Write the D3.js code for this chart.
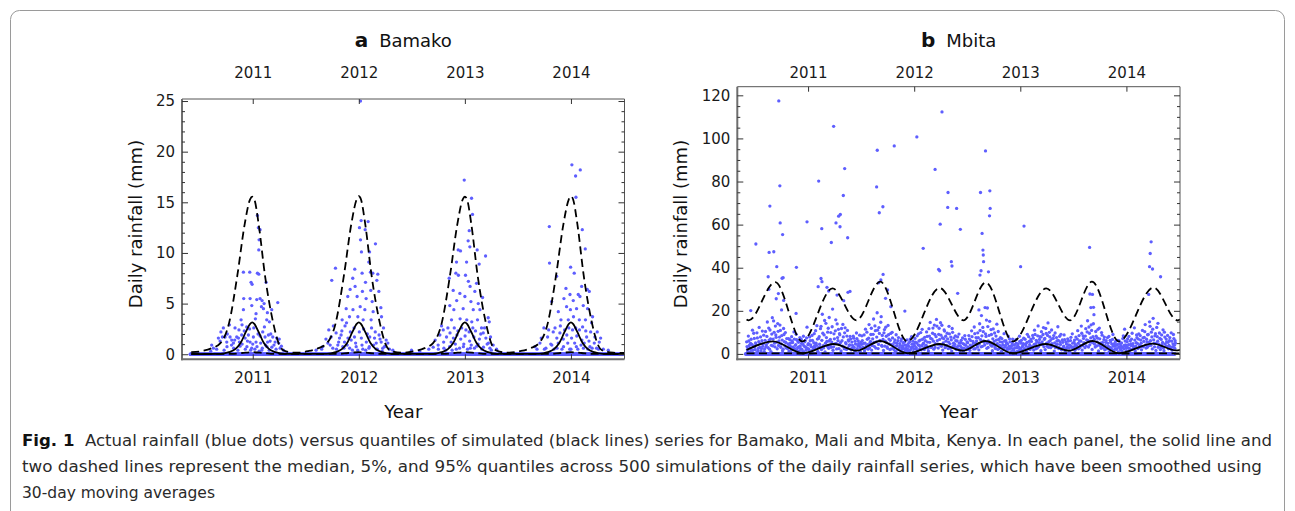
<!DOCTYPE html>
<html><head><meta charset="utf-8">
<script src="https://cdn.jsdelivr.net/npm/d3@7"></script>
<style>body{margin:0;background:#fff}svg{display:block}</style>
</head><body><svg id="c" width="1295" height="511"></svg>
<script>
// ---------- data ----------
const yearTicks = [2011, 2012, 2013, 2014];
const bamakoYTicks = [0, 5, 10, 15, 20, 25];
const mbitaYTicks = [0, 20, 40, 60, 80, 100, 120];
const panelTitles = [["a", "Bamako"], ["b", "Mbita"]];
const yLabel = "Daily rainfall (mm)";
const xLabel = "Year";
const captionLines = [
  ["Fig. 1", "  Actual rainfall (blue dots) versus quantiles of simulated (black lines) series for Bamako, Mali and Mbita, Kenya. In each panel, the solid line and"],
  ["", "two dashed lines represent the median, 5%, and 95% quantiles across 500 simulations of the daily rainfall series, which have been smoothed using"],
  ["", "30-day moving averages"]
];

// dry-day runs (rainfall = 0 every day inside each run)
const bamakoDryRuns = [[2010.41, 2010.62], [2010.63, 2011.3], [2011.31, 2011.75], [2011.76, 2012.3], [2012.31, 2012.8], [2012.81, 2013.3], [2013.31, 2013.74], [2013.75, 2014.49]];
const mbitaDryRuns = [[2010.41, 2010.9], [2010.91, 2011.6], [2011.61, 2012.2], [2012.21, 2012.95], [2012.96, 2013.7], [2013.71, 2014.46]];

// Bamako rainy days [decimal year, mm]
const bamakoDots = [
[2011.044,13.7],[2011.053,12.5],[2011.069,12.3],[2011.06,11.3],[2011.057,10.3],[2010.912,8.1],[2010.972,8.1],[2011.044,8.0],[2011.057,7.9],[2010.984,7.1],[2010.994,6.9],[2011.126,7.1],[2010.915,5.5],[2010.975,5.5],[2011.038,5.4],[2011.069,5.5],[2011.088,5.3],[2011.107,5.0],[2011.236,5.1],[2011.138,4.1],[2011.179,4.4],[2010.912,4.4],[2010.991,4.8],[2011.031,4.0],[2011.082,4.7],[2011.101,4.5],[2010.89,3.4],[2011.132,3.4],[2011.157,3.2],[2010.723,2.6],[2010.78,2.9],[2010.833,2.6],[2010.899,2.9],[2010.943,2.7],[2011.025,3.5],[2010.676,1.6],[2010.692,1.3],[2010.714,1.7],[2010.739,1.7],[2010.755,1.2],[2010.786,1.7],[2010.802,1.4],[2010.818,1.1],[2010.849,1.7],[2010.865,1.6],[2010.874,1.2],[2010.896,1.9],[2010.928,1.6],[2010.959,1.9],[2010.975,1.2],[2011.006,1.7],[2011.031,1.2],[2011.069,1.8],[2011.094,2.2],[2011.116,1.7],[2011.148,1.9],[2011.164,1.3],[2011.189,1.7],[2011.211,1.2],[2011.226,1.6],[2011.245,1.1],[2010.613,0.9],[2010.629,0.6],[2010.604,0.3],[2010.757,0.75],[2010.82,0.6],[2010.88,0.8],[2010.945,0.75],[2010.99,0.6],[2011.04,0.75],[2011.085,0.4],[2011.134,0.75],[2011.18,0.7],[2011.258,0.6],[2011.289,0.4],
[2010.66,0.5],[2010.7,2.2],[2010.73,0.4],[2010.76,2.0],[2010.8,0.9],[2010.83,1.4],[2010.86,0.4],[2010.87,2.4],[2010.9,1.0],[2010.92,2.3],[2010.93,0.5],[2010.95,1.3],[2010.97,2.5],[2010.98,0.4],[2011.0,1.0],[2011.01,2.6],[2011.02,0.5],[2011.05,2.0],[2011.06,0.3],[2011.075,1.1],[2011.09,0.6],[2011.11,2.7],[2011.12,0.9],[2011.14,1.2],[2011.155,0.4],[2011.17,2.0],[2011.2,0.9],[2011.22,0.5],[2011.25,1.5],[2011.27,0.8],
[2012.016,25.0],[2012.022,13.2],[2012.088,13.1],[2012.006,12.5],[2012.06,12.3],[2012.016,11.3],[2012.157,10.9],[2012.101,10.1],[2012.025,10.1],[2012.094,9.1],[2011.78,8.5],[2011.745,7.3],[2011.962,8.4],[2012.11,8.1],[2012.132,8.0],[2012.031,8.0],[2012.179,7.9],[2011.943,7.5],[2012.063,7.1],[2012.17,7.3],[2011.918,6.4],[2011.965,6.7],[2012.034,6.2],[2012.113,6.3],[2012.189,6.2],[2011.896,5.7],[2011.984,5.7],[2012.069,5.5],[2012.126,5.2],[2011.881,4.5],[2011.945,4.4],[2012.013,4.7],[2012.057,4.4],[2012.135,4.2],[2012.208,4.6],[2011.843,3.4],[2011.884,3.1],[2011.912,3.7],[2011.991,3.7],[2012.041,3.4],[2012.116,3.4],[2012.214,3.7],[2012.233,2.6],[2012.258,1.4],[2011.717,2.4],[2011.739,1.7],[2011.786,2.1],[2011.818,1.6],[2011.833,1.9],[2011.865,1.2],[2011.898,1.6],[2011.928,1.4],[2011.959,1.7],[2012.024,1.6],[2012.071,1.2],[2012.103,1.7],[2012.148,1.6],[2012.164,1.1],[2012.191,1.9],[2012.211,1.2],[2012.242,0.75],[2012.274,1.1],[2011.597,0.4],[2011.66,0.75],[2011.708,1.1],[2011.755,0.6],[2011.802,0.9],[2011.849,0.75],[2011.914,0.6],[2011.975,0.75],[2012.038,0.5],[2012.099,0.75],[2012.166,0.5],[2012.226,0.6],[2012.289,0.5],[2012.321,0.4],
[2011.65,0.5],[2011.69,1.5],[2011.73,0.9],[2011.76,2.8],[2011.79,0.5],[2011.81,1.2],[2011.84,2.3],[2011.86,0.6],[2011.87,2.8],[2011.89,0.9],[2011.92,2.2],[2011.94,0.4],[2011.955,2.6],[2011.97,1.1],[2011.99,0.4],[2012.005,2.2],[2012.03,0.9],[2012.045,2.5],[2012.065,0.4],[2012.08,2.0],[2012.095,0.6],[2012.12,2.6],[2012.14,0.9],[2012.155,2.2],[2012.175,0.5],[2012.2,1.5],[2012.22,0.3],[2012.25,0.8],
[2012.994,17.2],[2013.063,15.4],[2013.072,13.8],[2013.041,12.2],[2012.937,10.3],[2012.959,10.2],[2013.031,11.2],[2013.047,10.6],[2013.116,10.3],[2013.195,9.7],[2012.921,9.1],[2013.016,9.1],[2013.135,8.9],[2012.852,7.5],[2012.915,8.0],[2012.939,7.8],[2013.006,7.8],[2013.033,7.2],[2013.11,7.0],[2013.049,6.7],[2013.094,6.2],[2012.89,6.3],[2012.953,6.0],[2013.0,5.7],[2013.167,5.6],[2012.923,5.3],[2013.057,5.2],[2013.126,5.0],[2012.858,4.8],[2012.896,4.4],[2012.984,4.5],[2013.079,4.4],[2013.142,4.4],[2012.874,3.4],[2012.955,3.5],[2013.018,3.4],[2013.065,3.2],[2013.119,3.4],[2013.22,3.6],[2013.23,3.2],[2013.157,2.6],[2012.764,1.9],[2012.796,2.4],[2012.827,1.7],[2012.86,2.1],[2012.892,1.6],[2012.925,1.9],[2012.961,1.5],[2013.002,1.8],[2013.045,1.3],[2013.085,1.7],[2013.137,1.5],[2013.173,2.1],[2013.198,1.6],[2013.222,1.1],[2013.242,1.7],[2013.267,0.9],[2012.701,0.7],[2012.748,0.9],[2012.802,0.6],[2012.856,0.75],[2012.919,0.5],[2012.986,0.75],[2013.051,0.6],[2013.112,0.8],[2013.175,0.7],[2013.236,0.6],[2013.299,0.5],[2012.497,0.4],[2012.575,0.25],
[2012.66,0.5],[2012.72,1.4],[2012.75,0.5],[2012.78,2.8],[2012.8,1.2],[2012.82,0.4],[2012.84,2.6],[2012.87,1.2],[2012.88,0.4],[2012.9,2.6],[2012.91,1.0],[2012.935,2.3],[2012.95,0.6],[2012.97,2.6],[2012.99,1.0],[2013.01,2.4],[2013.025,0.5],[2013.04,2.2],[2013.06,0.9],[2013.075,2.6],[2013.09,0.6],[2013.1,2.3],[2013.125,1.0],[2013.15,2.0],[2013.16,0.5],[2013.185,2.6],[2013.21,1.0],[2013.25,0.4],
[2014.009,18.7],[2014.088,18.2],[2014.044,17.6],[2014.047,15.5],[2013.796,12.6],[2014.107,12.3],[2014.135,10.4],[2013.798,9.0],[2013.997,8.6],[2013.865,7.7],[2014.031,8.0],[2014.101,6.7],[2013.953,6.5],[2013.991,5.9],[2014.069,5.9],[2014.154,6.4],[2014.173,6.2],[2013.818,5.2],[2013.934,5.5],[2014.022,5.3],[2014.085,5.7],[2013.881,4.2],[2013.959,4.7],[2013.995,4.4],[2014.053,4.5],[2014.116,4.8],[2014.157,4.5],[2014.204,3.7],[2013.906,3.4],[2013.975,3.4],[2014.024,3.7],[2014.079,3.4],[2014.137,3.4],[2014.195,3.1],[2013.745,2.6],[2013.78,1.7],[2013.833,2.2],[2013.867,1.6],[2013.896,2.1],[2013.928,1.5],[2013.961,1.9],[2014.006,1.6],[2014.055,1.8],[2014.103,1.4],[2014.148,1.7],[2014.186,2.2],[2014.226,1.7],[2014.248,2.2],[2014.267,1.2],[2013.66,0.75],[2013.708,1.1],[2013.764,0.6],[2013.82,0.9],[2013.869,0.6],[2013.93,0.75],[2013.989,0.5],[2014.051,0.75],[2014.118,0.6],[2014.179,0.75],[2014.242,0.6],[2014.305,0.5],[2014.352,0.4],
[2013.68,0.5],[2013.72,1.6],[2013.75,0.5],[2013.79,2.4],[2013.81,1.0],[2013.84,0.5],[2013.85,2.6],[2013.88,1.1],[2013.9,2.8],[2013.915,0.5],[2013.94,2.4],[2013.97,1.1],[2013.98,2.6],[2014.0,0.5],[2014.015,2.4],[2014.035,1.1],[2014.045,2.6],[2014.065,0.5],[2014.08,2.4],[2014.095,0.9],[2014.11,2.7],[2014.125,1.1],[2014.14,2.3],[2014.16,0.5],[2014.17,1.3],[2014.2,0.6],[2014.22,1.1],[2014.26,0.5],[2014.28,1.6]
];

// Bamako simulated quantiles (30-day smoothed) [decimal year, mm]
const bamakoQ95 = [
[2010.42,0.2],[2010.515,0.3],[2010.615,0.6],[2010.695,1.1],[2010.775,3.0],[2010.855,7.8],[2010.925,12.9],[2010.975,15.3],[2010.995,15.55],[2011.015,15.3],[2011.055,12.9],[2011.115,7.8],[2011.195,3.0],[2011.245,1.05],[2011.295,0.35],[2011.395,0.15],
[2011.42,0.15],[2011.52,0.3],[2011.62,0.6],[2011.7,1.1],[2011.78,3.0],[2011.86,7.8],[2011.93,12.9],[2011.98,15.3],[2012.0,15.6],[2012.02,15.3],[2012.06,12.9],[2012.12,7.8],[2012.2,3.0],[2012.25,1.05],[2012.3,0.35],[2012.4,0.15],
[2012.42,0.15],[2012.52,0.3],[2012.62,0.6],[2012.7,1.1],[2012.78,3.0],[2012.86,7.8],[2012.93,12.9],[2012.98,15.3],[2013.0,15.55],[2013.02,15.3],[2013.06,12.9],[2013.12,7.8],[2013.2,3.0],[2013.25,1.05],[2013.3,0.35],[2013.4,0.15],
[2013.42,0.15],[2013.52,0.3],[2013.62,0.6],[2013.7,1.1],[2013.78,3.0],[2013.86,7.8],[2013.93,12.9],[2013.98,15.3],[2014.0,15.6],[2014.02,15.3],[2014.06,12.9],[2014.12,7.8],[2014.2,3.0],[2014.25,1.05],[2014.3,0.35],[2014.4,0.15],[2014.505,0.12]
];
const bamakoQ50 = [
[2010.42,0.02],[2010.695,0.03],[2010.775,0.2],[2010.835,0.5],[2010.885,1.1],[2010.935,2.2],[2010.975,3.0],[2010.995,3.15],[2011.015,3.0],[2011.055,2.2],[2011.105,1.1],[2011.155,0.5],[2011.215,0.2],[2011.295,0.03],
[2011.7,0.03],[2011.78,0.2],[2011.84,0.5],[2011.89,1.1],[2011.94,2.2],[2011.98,3.0],[2012.0,3.15],[2012.02,3.0],[2012.06,2.2],[2012.11,1.1],[2012.16,0.5],[2012.22,0.2],[2012.3,0.03],
[2012.7,0.03],[2012.78,0.2],[2012.84,0.5],[2012.89,1.1],[2012.94,2.2],[2012.98,3.0],[2013.0,3.15],[2013.02,3.0],[2013.06,2.2],[2013.11,1.1],[2013.16,0.5],[2013.22,0.2],[2013.3,0.03],
[2013.7,0.03],[2013.78,0.2],[2013.84,0.5],[2013.89,1.1],[2013.94,2.2],[2013.98,3.0],[2014.0,3.15],[2014.02,3.0],[2014.06,2.2],[2014.11,1.1],[2014.16,0.5],[2014.22,0.2],[2014.3,0.03],[2014.505,0.02]
];
const bamakoQ05 = [
[2010.42,0.03],[2010.8,0.03],[2010.9,0.12],[2011.0,0.2],[2011.1,0.12],[2011.2,0.03],[2011.8,0.03],[2011.9,0.12],[2012.0,0.2],[2012.1,0.12],[2012.2,0.03],
[2012.8,0.03],[2012.9,0.12],[2013.0,0.2],[2013.1,0.12],[2013.2,0.03],[2013.8,0.03],[2013.9,0.12],[2014.0,0.2],[2014.1,0.12],[2014.2,0.03],[2014.505,0.03]
];

// Mbita rainy days [decimal year, mm]
const mbitaDots = [
[2010.421,5.6],[2010.429,2.1],[2010.437,8.3],[2010.446,3.9],[2010.454,0.9],[2010.463,6.8],[2010.471,4.4],[2010.48,1.7],[2010.488,9.6],[2010.497,3.2],
[2010.505,5.1],[2010.514,0.6],[2010.522,7.4],[2010.531,2.6],[2010.539,12.3],[2010.548,4.8],[2010.556,1.4],[2010.565,6.1],[2010.573,3.5],[2010.582,8.7],[2010.59,2.3],[2010.599,10.4],
[2010.607,4.1],[2010.616,14.8],[2010.624,2.9],[2010.633,6.4],[2010.641,11.1],[2010.65,1.1],[2010.658,9.2],[2010.667,3.7],[2010.675,15.3],[2010.684,5.0],[2010.692,12.9],[2010.699,7.7],
[2010.709,2.4],[2010.718,10.5],[2010.726,6.0],[2010.735,13.4],[2010.743,3.1],[2010.752,8.5],[2010.76,1.5],[2010.769,11.8],[2010.777,5.7],[2010.786,9.9],[2010.794,2.8],[2010.799,7.1],
[2010.811,4.6],[2010.82,1.3],[2010.828,6.6],[2010.837,3.4],[2010.845,8.0],[2010.854,5.3],[2010.862,2.0],[2010.871,6.9],[2010.879,4.0],[2010.888,9.1],[2010.896,1.6],
[2010.905,5.9],[2010.913,3.3],[2010.922,7.5],[2010.93,2.5],[2010.939,4.9],[2010.947,0.7],[2010.956,8.2],[2010.964,3.6],[2010.973,6.2],[2010.981,1.8],[2010.99,12.4],[2010.998,4.2],
[2011.007,2.2],[2011.015,7.9],[2011.024,4.2],[2011.032,1.0],[2011.041,6.3],[2011.049,3.0],[2011.058,9.4],[2011.066,2.7],[2011.075,5.0],[2011.083,13.1],[2011.092,1.2],[2011.099,7.2],
[2011.109,4.5],[2011.117,11.7],[2011.126,2.0],[2011.134,18.4],[2011.143,3.8],[2011.151,8.8],[2011.16,0.9],[2011.168,14.2],[2011.177,5.8],[2011.185,10.1],[2011.194,2.6],[2011.199,16.9],
[2011.21,6.7],[2011.218,3.1],[2011.227,12.6],[2011.235,1.7],[2011.244,9.3],[2011.252,4.7],[2011.261,15.8],[2011.269,2.3],[2011.278,7.6],[2011.286,11.4],[2011.295,4.4],[2011.299,8.9],
[2011.311,1.4],[2011.32,6.1],[2011.328,13.7],[2011.337,3.3],[2011.345,9.8],[2011.354,5.2],[2011.362,2.1],[2011.371,10.9],[2011.379,6.5],[2011.388,3.9],[2011.396,8.1],
[2011.405,1.9],[2011.413,5.5],[2011.422,3.0],[2011.43,7.3],[2011.439,0.8],[2011.447,4.6],[2011.456,9.7],[2011.464,2.4],[2011.473,6.0],[2011.481,3.6],[2011.49,1.2],[2011.498,5.3],
[2011.507,8.4],[2011.515,2.8],[2011.524,4.9],[2011.532,1.5],[2011.541,11.5],[2011.549,3.7],[2011.558,6.8],[2011.566,2.2],[2011.575,13.6],[2011.583,5.1],[2011.592,9.0],[2011.599,1.8],
[2011.609,7.0],[2011.617,16.2],[2011.626,3.4],[2011.634,10.8],[2011.643,5.6],[2011.651,19.1],[2011.66,2.5],[2011.668,12.2],[2011.677,6.3],[2011.685,14.7],[2011.694,4.0],[2011.699,8.6],
[2011.711,1.6],[2011.72,11.3],[2011.728,5.9],[2011.737,8.2],[2011.745,3.2],[2011.754,13.2],[2011.762,6.9],[2011.771,2.0],[2011.779,9.5],[2011.788,4.3],[2011.796,7.4],
[2011.805,2.7],[2011.813,5.4],[2011.822,1.1],[2011.83,8.9],[2011.839,3.8],[2011.847,6.1],[2011.856,2.3],[2011.864,4.8],[2011.873,1.4],[2011.881,7.0],[2011.89,3.1],[2011.898,5.2],
[2011.907,0.8],[2011.915,4.1],[2011.924,2.6],[2011.932,6.5],[2011.941,1.3],[2011.949,3.5],[2011.958,5.7],[2011.966,2.0],[2011.975,8.0],[2011.983,3.3],[2011.992,1.0],[2011.998,4.6],
[2012.007,7.2],[2012.015,2.4],[2012.024,5.1],[2012.032,1.6],[2012.041,9.3],[2012.049,3.9],[2012.058,6.4],[2012.066,1.9],[2012.075,11.4],[2012.083,4.5],[2012.092,2.8],[2012.099,7.7],
[2012.109,3.6],[2012.117,10.2],[2012.126,5.5],[2012.134,1.4],[2012.143,8.3],[2012.151,14.6],[2012.16,3.0],[2012.168,6.9],[2012.177,12.0],[2012.185,2.2],[2012.194,9.0],[2012.199,4.8],
[2012.21,16.0],[2012.218,6.2],[2012.227,2.7],[2012.235,11.9],[2012.244,4.1],[2012.252,8.7],[2012.261,13.3],[2012.269,1.8],[2012.278,7.1],[2012.286,10.6],[2012.295,3.4],[2012.299,5.9],
[2012.311,9.6],[2012.32,2.5],[2012.328,12.8],[2012.337,4.7],[2012.345,7.8],[2012.354,1.3],[2012.362,10.0],[2012.371,5.0],[2012.379,3.2],[2012.388,8.4],[2012.396,2.0],
[2012.405,6.0],[2012.413,3.7],[2012.422,9.2],[2012.43,1.6],[2012.439,5.3],[2012.447,2.9],[2012.456,7.4],[2012.464,1.0],[2012.473,4.4],[2012.481,6.8],[2012.49,2.3],[2012.498,5.6],
[2012.507,3.1],[2012.515,8.5],[2012.524,1.7],[2012.532,6.2],[2012.541,10.7],[2012.549,3.8],[2012.558,5.0],[2012.566,12.5],[2012.575,2.4],[2012.583,7.6],[2012.592,4.3],[2012.599,9.8],
[2012.609,1.9],[2012.617,14.0],[2012.626,6.6],[2012.634,17.8],[2012.643,3.5],[2012.651,10.3],[2012.66,5.4],[2012.668,21.5],[2012.677,8.1],[2012.685,2.6],[2012.694,12.7],[2012.699,6.0],
[2012.711,15.1],[2012.72,4.2],[2012.728,9.0],[2012.737,1.5],[2012.745,11.6],[2012.754,5.8],[2012.762,3.0],[2012.771,8.3],[2012.779,13.8],[2012.788,2.1],[2012.796,6.7],
[2012.805,4.0],[2012.813,7.5],[2012.822,1.2],[2012.83,5.5],[2012.839,2.8],[2012.847,9.4],[2012.856,3.3],[2012.864,6.1],[2012.873,1.8],[2012.881,4.7],[2012.89,2.2],[2012.898,7.0],
[2012.907,3.5],[2012.915,1.0],[2012.924,5.2],[2012.932,2.5],[2012.941,4.1],[2012.949,0.7],[2012.958,6.6],[2012.966,2.9],[2012.975,3.8],[2012.983,1.4],[2012.992,8.2],[2012.998,2.0],
[2013.007,5.0],[2013.015,1.6],[2013.024,3.9],[2013.032,7.3],[2013.041,2.4],[2013.049,4.5],[2013.058,1.1],[2013.066,9.1],[2013.075,3.0],[2013.083,5.8],[2013.092,2.1],[2013.099,6.9],
[2013.109,3.4],[2013.117,8.6],[2013.126,1.8],[2013.134,11.0],[2013.143,4.6],[2013.151,6.3],[2013.16,2.7],[2013.168,13.0],[2013.177,5.2],[2013.185,8.0],[2013.194,1.5],[2013.199,10.3],
[2013.21,4.3],[2013.218,12.2],[2013.227,6.8],[2013.235,2.0],[2013.244,9.5],[2013.252,3.6],[2013.261,14.4],[2013.269,5.7],[2013.278,7.9],[2013.286,2.9],[2013.295,11.1],[2013.299,4.8],
[2013.311,7.2],[2013.32,1.3],[2013.328,9.7],[2013.337,3.8],[2013.345,6.0],[2013.354,12.6],[2013.362,2.5],[2013.371,8.2],[2013.379,4.4],[2013.388,1.9],[2013.396,6.5],
[2013.405,3.0],[2013.413,8.8],[2013.422,1.5],[2013.43,5.6],[2013.439,2.7],[2013.447,7.0],[2013.456,4.2],[2013.464,1.0],[2013.473,6.2],[2013.481,3.4],[2013.49,9.3],[2013.498,2.3],
[2013.507,5.3],[2013.515,1.7],[2013.524,7.8],[2013.532,3.6],[2013.541,10.8],[2013.549,2.4],[2013.558,6.0],[2013.566,4.0],[2013.575,12.9],[2013.583,1.8],[2013.592,8.4],[2013.599,5.1],
[2013.609,2.9],[2013.617,11.7],[2013.626,6.5],[2013.634,15.4],[2013.643,3.2],[2013.651,9.6],[2013.66,5.6],[2013.668,13.5],[2013.677,2.1],[2013.685,8.0],[2013.694,18.2],[2013.699,4.6],
[2013.711,10.4],[2013.72,3.7],[2013.728,7.3],[2013.737,1.4],[2013.745,12.0],[2013.754,5.0],[2013.762,2.6],[2013.771,8.7],[2013.779,4.1],[2013.788,6.6],[2013.796,1.9],
[2013.805,5.4],[2013.813,2.3],[2013.822,7.6],[2013.83,3.5],[2013.839,1.1],[2013.847,6.3],[2013.856,2.8],[2013.864,4.5],[2013.873,9.0],[2013.881,1.6],[2013.89,3.9],[2013.898,5.8],
[2013.907,2.1],[2013.915,4.4],[2013.924,0.9],[2013.932,6.0],[2013.941,2.6],[2013.949,3.8],[2013.958,1.3],[2013.966,7.1],[2013.975,2.4],[2013.983,11.5],[2013.992,4.2],[2013.998,1.5],
[2014.007,5.7],[2014.015,2.8],[2014.024,8.1],[2014.032,1.7],[2014.041,4.6],[2014.049,6.9],[2014.058,2.2],[2014.066,3.5],[2014.075,12.1],[2014.083,1.4],[2014.092,5.2],[2014.099,7.5],
[2014.109,2.5],[2014.117,9.3],[2014.126,4.0],[2014.134,6.4],[2014.143,1.9],[2014.151,10.9],[2014.16,3.3],[2014.168,7.7],[2014.177,13.6],[2014.185,2.7],[2014.194,5.5],[2014.199,8.9],
[2014.21,3.8],[2014.218,14.9],[2014.227,6.1],[2014.235,10.1],[2014.244,2.3],[2014.252,16.5],[2014.261,4.9],[2014.269,8.4],[2014.278,1.6],[2014.286,12.3],[2014.295,5.9],[2014.299,3.1],
[2014.311,9.7],[2014.32,2.0],[2014.328,6.7],[2014.337,4.3],[2014.345,11.2],[2014.354,1.5],[2014.362,7.8],[2014.371,3.6],[2014.379,5.6],[2014.388,8.6],[2014.396,2.4],
[2014.405,6.2],[2014.413,3.3],[2014.422,9.8],[2014.43,1.8],[2014.439,4.7],[2014.447,7.1],[2014.456,2.6],[2014.462,5.0],
// heavier days
[2010.46,20.1],[2010.508,51.0],[2010.624,35.8],[2010.633,47.1],[2010.64,68.6],[2010.677,47.4],[2010.705,40.5],[2010.724,117.4],[2010.734,78.0],[2010.737,60.8],[2010.755,35.1],[2010.765,35.4],[2010.76,55.4],[2010.887,18.8],[2010.89,40.2],[2010.63,30.0],[2010.7,25.6],[2010.72,28.0],[2010.75,20.4],[2010.77,24.8],
[2010.99,61.3],[2011.1,80.2],[2011.095,31.2],[2011.122,35.0],[2011.131,33.5],[2011.129,58.1],[2011.178,30.9],[2011.194,29.2],[2011.219,51.7],[2011.241,105.6],[2011.263,60.8],[2011.288,63.9],[2011.304,64.7],[2011.301,59.0],[2011.332,73.5],[2011.345,86.0],[2011.373,53.9],[2011.376,28.6],[2011.395,29.0],[2011.336,24.7],[2011.273,27.3],
[2011.646,77.5],[2011.652,94.5],[2011.671,65.5],[2011.705,68.3],[2011.707,36.9],[2011.686,34.3],[2011.665,33.0],[2011.749,29.7],[2011.73,25.8],[2011.78,21.9],[2011.812,96.5],[2011.912,19.9],
[2012.025,100.7],[2012.085,49.0],[2012.197,85.6],[2012.23,39.2],[2012.245,60.2],[2012.262,112.3],[2012.316,68.0],[2012.319,74.9],[2012.35,42.8],[2012.356,40.8],[2012.4,67.5],[2012.41,28.1],[2012.435,57.8],[2012.24,38.6],
[2012.625,74.9],[2012.62,36.6],[2012.63,38.6],[2012.64,55.9],[2012.648,48.2],[2012.651,45.9],[2012.654,42.8],[2012.672,94.2],[2012.7,38.1],[2012.71,64.1],[2012.713,75.7],[2012.716,67.5],[2012.69,21.3],[2012.61,20.4],
[2013.003,40.5],[2013.035,59.3],[2013.653,49.4],[2013.656,27.8],[2013.68,27.6],[2013.665,21.5],[2013.69,21.6],
[2014.224,46.6],[2014.233,52.0],[2014.218,40.5],[2014.246,39.4],[2014.21,27.6],[2014.322,35.8]
];
const mbitaDotsMore = [
[2010.425,3.4],[2010.433,1.2],[2010.441,6.0],[2010.45,2.7],[2010.458,4.9],[2010.467,1.8],[2010.476,11.0],[2010.484,3.6],[2010.493,7.2],
[2010.501,2.0],[2010.51,4.3],[2010.518,9.8],[2010.527,1.5],[2010.535,5.7],[2010.544,3.0],[2010.552,7.9],[2010.561,2.5],[2010.569,10.6],[2010.578,4.7],[2010.586,1.1],[2010.595,6.3],
[2010.603,3.2],[2010.612,8.1],[2010.62,5.2],[2010.629,12.0],[2010.637,2.2],[2010.646,7.0],[2010.654,4.0],[2010.663,16.8],[2010.671,6.9],[2010.68,10.0],[2010.688,3.3],[2010.696,8.8],
[2010.705,5.5],[2010.714,14.1],[2010.722,3.9],[2010.731,7.8],[2010.739,10.9],[2010.748,4.6],[2010.756,6.4],[2010.765,2.2],[2010.773,9.0],[2010.782,3.7],[2010.79,5.3],
[2010.807,2.5],[2010.816,7.1],[2010.824,3.9],[2010.833,5.0],[2010.841,1.7],[2010.85,6.0],[2010.858,3.1],[2010.867,10.2],[2010.875,2.4],[2010.884,4.3],[2010.892,6.6],
[2010.901,2.9],[2010.909,5.4],[2010.918,1.4],[2010.926,3.7],[2010.935,6.8],[2010.943,2.1],[2010.952,4.4],[2010.96,1.0],[2010.969,5.6],[2010.977,3.1],[2010.986,7.4],[2010.994,2.6],
[2011.003,4.8],[2011.011,1.5],[2011.02,6.1],[2011.028,3.4],[2011.037,8.6],[2011.045,2.0],[2011.054,5.2],[2011.062,3.8],[2011.071,10.8],[2011.079,4.0],[2011.088,6.9],[2011.096,2.9],
[2011.105,8.0],[2011.113,3.2],[2011.122,12.8],[2011.13,6.3],[2011.139,9.6],[2011.147,2.8],[2011.156,15.5],[2011.164,5.0],[2011.173,7.6],[2011.181,3.5],[2011.19,11.9],[2011.198,6.0],
[2011.206,4.0],[2011.214,9.9],[2011.223,5.5],[2011.231,20.8],[2011.24,3.3],[2011.248,7.0],[2011.257,10.7],[2011.265,4.9],[2011.274,13.9],[2011.282,6.2],[2011.291,2.5],[2011.296,9.4],
[2011.306,5.3],[2011.315,11.8],[2011.324,3.6],[2011.332,7.9],[2011.341,2.4],[2011.349,12.1],[2011.358,4.7],[2011.366,8.3],[2011.375,2.8],[2011.383,6.0],[2011.392,4.2],
[2011.401,6.9],[2011.409,2.4],[2011.418,4.0],[2011.426,8.2],[2011.435,3.0],[2011.443,5.9],[2011.452,1.8],[2011.46,7.1],[2011.469,3.8],[2011.477,4.8],[2011.486,8.7],[2011.494,2.9],
[2011.503,4.4],[2011.511,6.2],[2011.52,3.1],[2011.528,8.8],[2011.537,5.0],[2011.545,2.6],[2011.554,10.1],[2011.562,4.3],[2011.571,7.3],[2011.579,2.9],[2011.588,5.8],[2011.596,11.9],
[2011.604,3.9],[2011.613,9.1],[2011.621,5.3],[2011.63,13.0],[2011.638,2.7],[2011.647,7.8],[2011.655,11.0],[2011.664,4.4],[2011.672,9.5],[2011.681,6.0],[2011.689,17.3],[2011.697,3.5],
[2011.706,6.7],[2011.715,9.8],[2011.724,3.6],[2011.732,12.4],[2011.741,5.2],[2011.749,2.6],[2011.758,8.9],[2011.766,4.6],[2011.775,6.3],[2011.783,2.3],[2011.792,10.0],
[2011.801,4.2],[2011.809,2.0],[2011.818,6.5],[2011.826,3.5],[2011.835,5.0],[2011.843,1.9],[2011.852,7.6],[2011.86,2.9],[2011.869,4.0],[2011.877,6.0],[2011.886,2.1],[2011.894,3.8],
[2011.903,2.5],[2011.911,5.6],[2011.92,1.6],[2011.928,3.9],[2011.937,2.3],[2011.945,4.8],[2011.954,1.1],[2011.962,6.9],[2011.971,2.9],[2011.979,4.5],[2011.988,5.9],[2011.995,2.4],
[2012.003,3.8],[2012.011,5.5],[2012.02,2.9],[2012.028,8.4],[2012.037,4.2],[2012.045,6.0],[2012.054,2.5],[2012.062,9.9],[2012.071,3.7],[2012.079,6.8],[2012.088,5.0],[2012.096,2.0],
[2012.105,6.1],[2012.113,4.0],[2012.122,8.1],[2012.13,2.6],[2012.139,11.7],[2012.147,5.4],[2012.156,7.2],[2012.164,3.3],[2012.173,9.6],[2012.181,5.9],[2012.19,13.4],[2012.197,3.0],
[2012.206,8.0],[2012.214,12.9],[2012.223,4.5],[2012.231,9.1],[2012.24,6.7],[2012.248,14.5],[2012.257,3.5],[2012.265,7.5],[2012.274,5.1],[2012.282,11.1],[2012.291,2.9],[2012.297,8.2],
[2012.306,3.9],[2012.315,7.0],[2012.324,5.5],[2012.332,9.3],[2012.341,2.6],[2012.349,6.5],[2012.358,11.8],[2012.366,3.6],[2012.375,7.4],[2012.383,4.4],[2012.392,6.1],
[2012.401,3.0],[2012.409,7.9],[2012.418,2.2],[2012.426,5.0],[2012.435,3.7],[2012.443,6.3],[2012.452,1.9],[2012.46,4.8],[2012.469,2.7],[2012.477,8.5],[2012.486,4.0],[2012.494,2.0],
[2012.503,5.2],[2012.511,2.6],[2012.52,6.9],[2012.528,4.1],[2012.537,3.1],[2012.545,8.0],[2012.554,5.8],[2012.562,2.3],[2012.571,9.4],[2012.579,4.9],[2012.588,6.0],[2012.596,3.2],
[2012.604,7.5],[2012.613,4.6],[2012.621,10.9],[2012.63,3.3],[2012.638,8.4],[2012.647,12.3],[2012.655,6.0],[2012.664,4.1],[2012.672,9.3],[2012.681,15.7],[2012.689,5.0],[2012.697,3.0],
[2012.706,8.6],[2012.715,5.3],[2012.724,11.3],[2012.732,3.6],[2012.741,7.0],[2012.749,4.3],[2012.758,9.7],[2012.766,2.5],[2012.775,6.4],[2012.783,4.8],[2012.792,10.4],
[2012.801,2.5],[2012.809,5.6],[2012.818,3.4],[2012.826,7.1],[2012.835,4.3],[2012.843,2.0],[2012.852,6.0],[2012.86,3.9],[2012.869,5.2],[2012.877,2.6],[2012.886,8.3],[2012.894,3.5],
[2012.903,5.6],[2012.911,2.6],[2012.92,3.9],[2012.928,6.9],[2012.937,1.7],[2012.945,4.2],[2012.954,2.8],[2012.962,5.0],[2012.971,1.2],[2012.979,4.6],[2012.988,3.0],[2012.995,5.8],
[2013.003,2.6],[2013.011,6.3],[2013.02,3.3],[2013.028,4.8],[2013.037,2.0],[2013.045,6.8],[2013.054,3.7],[2013.062,5.3],[2013.071,2.4],[2013.079,8.0],[2013.088,4.3],[2013.096,3.1],
[2013.105,5.8],[2013.113,2.9],[2013.122,7.3],[2013.13,4.4],[2013.139,9.0],[2013.147,2.4],[2013.156,5.5],[2013.164,8.4],[2013.173,3.4],[2013.181,6.7],[2013.19,4.6],[2013.197,7.9],
[2013.206,5.6],[2013.214,9.0],[2013.223,3.3],[2013.231,7.2],[2013.24,11.8],[2013.248,5.0],[2013.257,8.6],[2013.265,3.1],[2013.274,10.0],[2013.282,6.2],[2013.291,4.0],[2013.297,7.0],
[2013.306,3.6],[2013.315,8.5],[2013.324,5.1],[2013.332,2.9],[2013.341,7.6],[2013.349,4.5],[2013.358,6.3],[2013.366,3.0],[2013.375,5.6],[2013.383,9.1],[2013.392,2.5],
[2013.401,5.4],[2013.409,3.6],[2013.418,6.6],[2013.426,2.3],[2013.435,4.6],[2013.443,3.2],[2013.452,5.9],[2013.46,2.7],[2013.469,4.0],[2013.477,7.7],[2013.486,3.0],[2013.494,5.0],
[2013.503,3.2],[2013.511,6.4],[2013.52,4.3],[2013.528,2.5],[2013.537,6.9],[2013.545,4.9],[2013.554,8.5],[2013.562,3.0],[2013.571,5.9],[2013.579,9.6],[2013.588,3.8],[2013.596,7.2],
[2013.604,5.0],[2013.613,8.3],[2013.621,3.7],[2013.63,10.2],[2013.638,6.2],[2013.647,12.5],[2013.655,4.2],[2013.664,7.4],[2013.672,10.9],[2013.681,5.2],[2013.689,14.0],[2013.697,6.8],
[2013.706,3.2],[2013.715,8.2],[2013.724,5.6],[2013.732,11.4],[2013.741,4.1],[2013.749,7.0],[2013.758,3.4],[2013.766,9.9],[2013.775,5.3],[2013.783,2.8],[2013.792,7.8],
[2013.801,3.8],[2013.809,6.1],[2013.818,2.6],[2013.826,4.9],[2013.835,8.1],[2013.843,3.0],[2013.852,5.5],[2013.86,2.1],[2013.869,6.7],[2013.877,3.6],[2013.886,4.8],[2013.894,2.4],
[2013.903,4.0],[2013.911,2.5],[2013.92,6.3],[2013.928,3.3],[2013.937,4.6],[2013.945,1.9],[2013.954,5.1],[2013.962,3.0],[2013.971,8.4],[2013.979,3.9],[2013.988,6.0],[2013.995,2.9],
[2014.003,3.4],[2014.011,7.0],[2014.02,4.3],[2014.028,2.6],[2014.037,6.1],[2014.045,3.9],[2014.054,9.6],[2014.062,4.8],[2014.071,2.9],[2014.079,6.4],[2014.088,3.6],[2014.096,8.8],
[2014.105,4.8],[2014.113,6.9],[2014.122,3.0],[2014.13,8.5],[2014.139,5.0],[2014.147,3.4],[2014.156,7.4],[2014.164,5.8],[2014.173,10.3],[2014.181,4.2],[2014.19,6.8],[2014.197,3.1],
[2014.206,9.0],[2014.214,5.5],[2014.223,12.8],[2014.231,4.0],[2014.24,7.9],[2014.248,11.5],[2014.257,6.5],[2014.265,3.3],[2014.274,9.4],[2014.282,5.0],[2014.291,8.0],[2014.297,14.2],
[2014.306,4.5],[2014.315,7.2],[2014.324,3.1],[2014.332,8.8],[2014.341,5.3],[2014.349,2.7],[2014.358,10.1],[2014.366,4.7],[2014.375,6.9],[2014.383,3.4],[2014.392,5.4],
[2014.401,3.9],[2014.409,7.6],[2014.418,2.5],[2014.426,5.9],[2014.435,3.3],[2014.443,9.0],[2014.452,4.0],[2014.459,6.1]
];

// Mbita simulated quantiles (30-day smoothed) [decimal year, mm]
const mbitaQ95 = [
[2010.42,16.0],[2010.44,15.6],[2010.69,33.3],[2010.945,5.8],[2011.23,30.4],[2011.455,15.6],[2011.68,33.5],[2011.935,5.8],[2012.24,30.6],[2012.465,15.6],[2012.675,33.2],[2012.93,5.8],[2013.245,30.4],[2013.47,15.6],[2013.675,33.5],[2013.93,5.8],[2014.255,30.8],[2014.48,15.6],[2014.51,16.0]
];
const mbitaQ50 = [
[2010.42,1.8],[2010.67,5.8],[2010.95,0.3],[2011.24,4.6],[2011.46,1.5],[2011.68,6.0],[2011.94,0.3],[2012.24,4.6],[2012.46,1.5],[2012.67,6.0],[2012.93,0.3],[2013.24,4.6],[2013.46,1.5],[2013.68,6.0],[2013.93,0.3],[2014.25,4.8],[2014.47,1.6],[2014.51,1.9]
];
const mbitaQ05 = [
[2010.42,0.25],[2011.0,0.2],[2011.5,0.25],[2012.0,0.2],[2012.5,0.25],[2013.0,0.2],[2013.5,0.25],[2014.0,0.2],[2014.51,0.25]
];

// ---------- drawing ----------
const svg = d3.select("#c");
const FONT = "'DejaVu Sans', Verdana, sans-serif";
const DOT = "#5e5eff";
const DOT_R = 1.65;

// outer rounded frame
svg.append("rect").attr("x", 10.5).attr("y", 10.5).attr("width", 1274).attr("height", 540)
  .attr("rx", 9).attr("fill", "none").attr("stroke", "#9a9a9a").attr("stroke-width", 1);

function expandRuns(runs) {
  const out = [];
  runs.forEach(([a, b]) => { for (let t = a; t <= b + 1e-9; t += 1 / 365) out.push([t, 0]); });
  return out;
}

function panel(cfg) {
  const x = d3.scaleLinear().domain([2010.333, 2014.505]).range([cfg.left, cfg.right]);
  const y = d3.scaleLinear().domain(cfg.yDomain).range([cfg.bottom, cfg.top]);
  const g = svg.append("g");
  const clipId = "clip" + cfg.id;
  svg.append("clipPath").attr("id", clipId).append("rect")
    .attr("x", cfg.left).attr("y", cfg.top).attr("width", cfg.right - cfg.left).attr("height", cfg.bottom - cfg.top);

  // dots
  const dg = g.append("g").attr("clip-path", `url(#${clipId})`);
  dg.selectAll("circle.z").data(expandRuns(cfg.dry)).join("circle").attr("class", "z")
    .attr("cx", d => x(d[0])).attr("cy", d => y(d[1])).attr("r", DOT_R).attr("fill", DOT);
  dg.selectAll("circle.r").data(cfg.dots).join("circle").attr("class", "r")
    .attr("cx", d => x(d[0])).attr("cy", d => y(d[1])).attr("r", DOT_R).attr("fill", DOT);

  // lines
  const line = d3.line().x(d => x(d[0])).y(d => y(d[1])).curve(d3.curveMonotoneX);
  const lg = g.append("g").attr("clip-path", `url(#${clipId})`);
  [[cfg.q05, "8,4.5"], [cfg.q95, "8,4.5"], [cfg.q50, null]].forEach(([data, dash]) => {
    lg.append("path").datum(data).attr("d", line).attr("fill", "none").attr("stroke", "#000")
      .attr("stroke-width", 1.8).attr("stroke-dasharray", dash);
  });

  // frame
  g.append("line").attr("x1", cfg.left).attr("x2", cfg.right).attr("y1", cfg.top).attr("y2", cfg.top).attr("stroke", "#555").attr("stroke-width", 1);
  g.append("line").attr("x1", cfg.right).attr("x2", cfg.right).attr("y1", cfg.top).attr("y2", cfg.bottom).attr("stroke", "#555").attr("stroke-width", 1);
  g.append("line").attr("x1", cfg.left).attr("x2", cfg.left).attr("y1", cfg.top).attr("y2", cfg.bottom + 1).attr("stroke", "#6e6e6e").attr("stroke-width", 2);
  g.append("line").attr("x1", cfg.left - 1).attr("x2", cfg.right).attr("y1", cfg.bottom).attr("y2", cfg.bottom).attr("stroke", "#6e6e6e").attr("stroke-width", 2);

  const styleAxis = (sel) => {
    sel.select(".domain").remove();
    sel.selectAll(".tick line").attr("stroke", "#333").attr("stroke-width", 1);
    sel.selectAll("text").attr("font-family", FONT).attr("font-size", 15).attr("fill", "#1a1a1a");
  };
  const minor = d3.range(0, cfg.yDomain[1], cfg.minorStep).filter(v => !cfg.yTicks.includes(v));

  g.append("g").attr("transform", `translate(${cfg.left},0)`)
    .call(d3.axisLeft(y).tickValues(cfg.yTicks).tickSize(-6).tickPadding(7)).call(styleAxis);
  g.append("g").attr("transform", `translate(${cfg.left},0)`)
    .call(d3.axisLeft(y).tickValues(minor).tickSize(-3).tickFormat("")).call(styleAxis);
  g.append("g").attr("transform", `translate(${cfg.right},0)`)
    .call(d3.axisRight(y).tickValues(cfg.yTicks).tickSize(-6).tickFormat("")).call(styleAxis);
  g.append("g").attr("transform", `translate(${cfg.right},0)`)
    .call(d3.axisRight(y).tickValues(minor).tickSize(-3).tickFormat("")).call(styleAxis);
  g.append("g").attr("transform", `translate(0,${cfg.bottom})`)
    .call(d3.axisBottom(x).tickValues(yearTicks).tickSize(-5).tickPadding(13).tickFormat(d3.format("d"))).call(styleAxis);
  g.append("g").attr("transform", `translate(0,${cfg.top})`)
    .call(d3.axisTop(x).tickValues(yearTicks).tickSize(-5).tickPadding(cfg.top - 78).tickFormat(d3.format("d"))).call(styleAxis);

  const cx = (cfg.left + cfg.right) / 2;
  const t = svg.append("text").attr("x", cx).attr("y", 47).attr("text-anchor", "middle")
    .attr("font-family", FONT).attr("fill", "#111");
  t.append("tspan").attr("font-weight", "bold").attr("font-size", 20).text(cfg.title[0]);
  t.append("tspan").attr("dx", 11).attr("font-size", 18).text(cfg.title[1]);

  svg.append("text").attr("x", cx).attr("y", 418).attr("text-anchor", "middle")
    .attr("font-family", FONT).attr("font-size", 18).attr("fill", "#111").text(xLabel);
  svg.append("text").attr("transform", `translate(${cfg.ylabX},224) rotate(-90)`).attr("text-anchor", "middle")
    .attr("font-family", FONT).attr("font-size", 18).attr("fill", "#111").text(yLabel);
}

panel({ id: "a", left: 182, right: 624.5, top: 99, bottom: 359.3, yDomain: [-0.5, 25.2], yTicks: bamakoYTicks, minorStep: 1,
  dots: bamakoDots, dry: bamakoDryRuns, q95: bamakoQ95, q50: bamakoQ50, q05: bamakoQ05, title: panelTitles[0], ylabX: 142 });
panel({ id: "b", left: 737.3, right: 1180, top: 86.7, bottom: 359.3, yDomain: [-2.5, 124], yTicks: mbitaYTicks, minorStep: 5,
  dots: mbitaDots.concat(mbitaDotsMore), dry: mbitaDryRuns, q95: mbitaQ95, q50: mbitaQ50, q05: mbitaQ05, title: panelTitles[1], ylabX: 687 });

// caption
const capFont = "'Liberation Sans Narrow', 'DejaVu Sans Condensed', 'Noto Sans', sans-serif";
const capWidths = [1250, 1240, 193];
captionLines.forEach((ln, i) => {
  const t = svg.append("text").attr("x", 22).attr("y", 446 + i * 26).attr("font-family", capFont)
    .attr("font-size", 16.5).attr("fill", "#2a2a2a").attr("xml:space", "preserve")
    .attr("textLength", capWidths[i]).attr("lengthAdjust", "spacingAndGlyphs");
  if (ln[0]) t.append("tspan").attr("font-weight", "bold").attr("fill", "#111").text(ln[0]);
  t.append("tspan").text(ln[1]);
});
</script>
</body></html>
